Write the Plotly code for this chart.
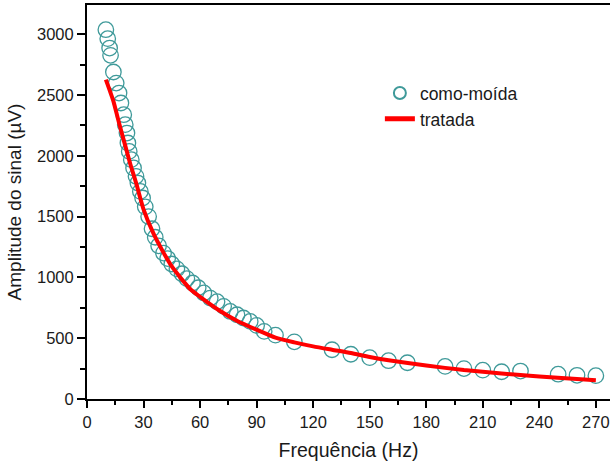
import plotly.graph_objects as go

# como-moída (circles)
freq_raw = [10, 11, 12, 12.5, 14, 15.5, 17, 18, 19.5, 20.3, 21.2, 21.7, 22.4, 23.5, 24.7, 26, 27,
            28.3, 29.5, 30.9, 32.7, 34.5, 36.2, 38, 40.6, 42.8, 45, 47.7, 50.4, 53, 56, 59, 62,
            65.4, 69, 72.5, 76, 79.6, 83, 86.6, 90, 94, 100, 110, 130, 140, 150, 160, 170, 190,
            200, 210, 220, 230, 250, 260, 270]
amp_raw = [3037, 2963, 2886, 2826, 2689, 2598, 2516, 2434, 2338, 2256, 2187, 2105, 2036, 1968, 1900,
           1831, 1776, 1707, 1653, 1580, 1500, 1400, 1330, 1260, 1200, 1155, 1110, 1070, 1030, 990,
           954, 915, 872, 830, 800, 762, 720, 693, 666, 638, 605, 556, 525, 470, 405, 368, 340, 315,
           298, 268, 250, 237, 224, 230, 204, 195, 192]

# tratada (red line)
freq_fit = [10, 12, 14, 17, 20, 23, 26, 30, 35, 40, 45, 50, 55, 60, 70, 80, 90, 100, 110, 120,
            130, 140, 150, 160, 180, 200, 220, 240, 260, 270]
amp_fit = [2626, 2540, 2450, 2270, 2100, 1930, 1780, 1560, 1370, 1220, 1090, 990, 900, 840, 730,
           640, 570, 505, 466, 433, 405, 378, 345, 318, 275, 238, 210, 185, 165, 155]

x_ticks = list(range(0, 271, 30))
y_ticks = list(range(0, 3001, 500))

FONT = "Liberation Sans, Arial, sans-serif"
INK = "#1a1a1a"

fig = go.Figure()
fig.add_trace(go.Scatter(
    x=freq_raw, y=amp_raw, mode="markers", name="como-moída",
    marker=dict(symbol="circle-open", size=15.5, color="#3f9a9a", line=dict(width=1.3, color="#3f9a9a")),
))
fig.add_trace(go.Scatter(
    x=freq_fit, y=amp_fit, mode="lines", name="tratada",
    line=dict(color="#ff0000", width=4, shape="spline", smoothing=0.6),
))

fig.update_layout(
    width=610, height=463,
    margin=dict(l=87, r=0, t=5, b=64),
    paper_bgcolor="white", plot_bgcolor="white",
    font=dict(family=FONT, color=INK, size=16),
    showlegend=True,
    legend=dict(x=0.56, y=0.822, xanchor="left", yanchor="top",
                bgcolor="rgba(0,0,0,0)", font=dict(size=17.5, family=FONT, color=INK),
                tracegroupgap=0, itemwidth=30, itemsizing="constant"),
)
fig.update_xaxes(
    range=[0, 277.5], tickvals=x_ticks, ticktext=[str(v) for v in x_ticks],
    showgrid=False, zeroline=False, showline=True, linecolor="black", linewidth=2, mirror=True,
    ticks="outside", ticklen=7, tickwidth=2, tickcolor="black",
    tickfont=dict(size=16.5, family=FONT, color=INK),
    minor=dict(tickvals=list(range(15, 271, 30)), ticks="outside", ticklen=4, tickwidth=2, tickcolor="black"),
    title=dict(text="Frequência (Hz)", font=dict(size=19.5, family=FONT, color=INK), standoff=14),
)
fig.update_yaxes(
    range=[0, 3240], tickvals=y_ticks, ticktext=[str(v) for v in y_ticks],
    showgrid=False, zeroline=False, showline=True, linecolor="black", linewidth=2, mirror=False,
    ticks="outside", ticklen=8, tickwidth=2, tickcolor="black",
    tickfont=dict(size=16.5, family=FONT, color=INK),
    minor=dict(tickvals=list(range(250, 3240, 500)), ticks="outside", ticklen=5, tickwidth=2, tickcolor="black"),
    title=dict(text="Amplitude do sinal (µV)", font=dict(size=19, family=FONT, color=INK), standoff=10),
)

fig.write_html("out.html")
